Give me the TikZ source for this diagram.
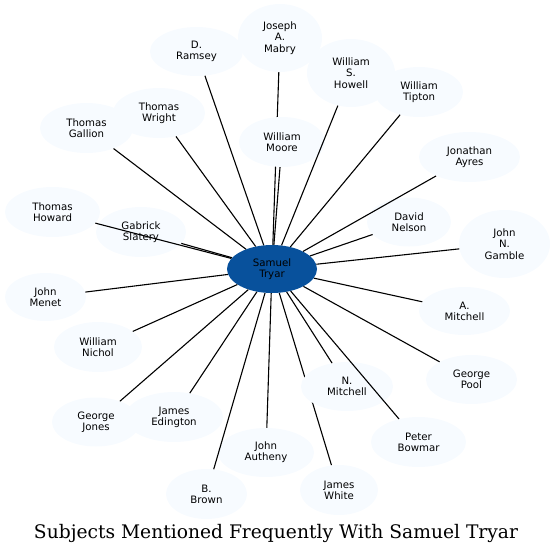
\documentclass[tikz,border=0pt]{standalone}
\usepackage{fontspec}
\usepackage{graphicx}
\setmainfont{DejaVu Sans}
\newfontfamily\titlefont{DejaVu Serif}
\usetikzlibrary{shapes.geometric,backgrounds}
\definecolor{pale}{HTML}{F7FBFF}
\definecolor{hub}{HTML}{08519C}
\tikzset{
  person/.style={ellipse, fill=pale, inner sep=0pt, align=center,
    font=\fontsize{10.2}{11.3}\selectfont, text=black},
  hubnode/.style={person, fill=hub},
  link/.style={line width=1.1pt, black},
}
\begin{document}
\begin{tikzpicture}[x=1pt,y=-1pt]
\useasboundingbox (0,0) rectangle (555,555);
\node[hubnode, minimum width=90, minimum height=48] (c) at (272,269) {Samuel\\Tryar};
\node[person, minimum width=93, minimum height=49] (ramsey) at (196.5,51.5) {D.\\Ramsey};
\node[person, minimum width=84, minimum height=68] (mabry) at (280,38) {Joseph\\A.\\Mabry};
\node[person, minimum width=88, minimum height=68] (howell) at (351,73) {William\\S.\\Howell};
\node[person, minimum width=88, minimum height=50] (tipton) at (419,92) {William\\Tipton};
\node[person, minimum width=92, minimum height=50] (wright) at (159,113) {Thomas\\Wright};
\node[person, minimum width=93, minimum height=50] (gallion) at (86.5,128) {Thomas\\Gallion};
\node[person, minimum width=86, minimum height=50] (moore) at (282,142) {William\\Moore};
\node[person, minimum width=101, minimum height=50] (ayres) at (469.5,157) {Jonathan\\Ayres};
\node[person, minimum width=95, minimum height=50] (howard) at (52.5,212) {Thomas\\Howard};
\node[person, minimum width=90, minimum height=50] (slatery) at (141,232) {Gabrick\\Slatery};
\node[person, minimum width=84, minimum height=49] (nelson) at (409,222) {David\\Nelson};
\node[person, minimum width=91, minimum height=68] (gamble) at (504.5,244) {John\\N.\\Gamble};
\node[person, minimum width=81, minimum height=48] (menet) at (45.5,297) {John\\Menet};
\node[person, minimum width=91, minimum height=48] (amitchell) at (464.5,311) {A.\\Mitchell};
\node[person, minimum width=88, minimum height=50] (nichol) at (98,347) {William\\Nichol};
\node[person, minimum width=91, minimum height=49] (pool) at (471.5,379.5) {George\\Pool};
\node[person, minimum width=92, minimum height=49] (nmitchell) at (347,386.5) {N.\\Mitchell};
\node[person, minimum width=88, minimum height=49] (jones) at (96,422) {George\\Jones};
\node[person, minimum width=98, minimum height=50] (edington) at (174,417) {James\\Edington};
\node[person, minimum width=95, minimum height=50] (bowmar) at (418.5,442) {Peter\\Bowmar};
\node[person, minimum width=96, minimum height=49] (autheny) at (266,452.5) {John\\Autheny};
\node[person, minimum width=81, minimum height=50] (brown) at (206.5,494) {B.\\Brown};
\node[person, minimum width=78, minimum height=50] (white) at (339,490) {James\\White};
\begin{scope}[on background layer]
\draw[link] (c) -- (mabry);
\draw[link] (c) -- (white);
\end{scope}
\foreach \n in {ramsey,howell,tipton,wright,gallion,moore,ayres,howard,slatery,nelson,gamble,menet,amitchell,nichol,pool,nmitchell,jones,edington,bowmar,autheny,brown}
  \draw[link] (c) -- (\n);
\node[font=\titlefont, anchor=base] (title) at (276,538) {\resizebox{484pt}{!}{Subjects Mentioned Frequently With Samuel Tryar}};
\end{tikzpicture}
\end{document}
